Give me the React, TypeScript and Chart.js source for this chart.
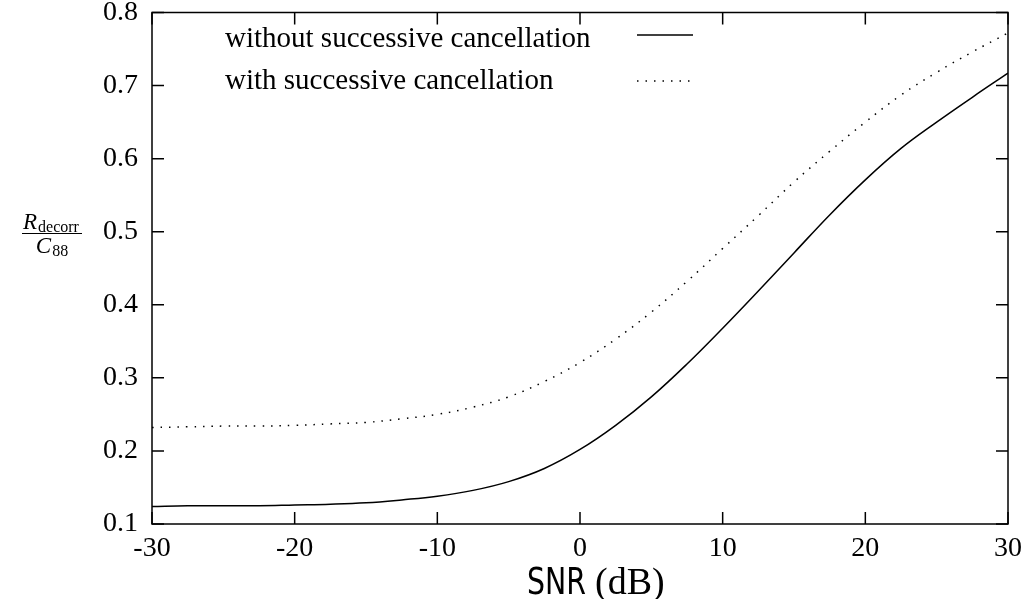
import React, { useEffect, useRef } from "react";
import { Chart, registerables } from "chart.js";

Chart.register(...registerables);

const snr = [-30, -27.5, -25, -22.5, -20, -17.5, -15, -12.5, -10, -7.5, -5, -2.5, 0, 2.5, 5, 7.5, 10, 12.5, 15, 17.5, 20, 22.5, 25, 27.5, 30];
const withoutSC = [0.124, 0.125, 0.125, 0.125, 0.126, 0.127, 0.129, 0.133, 0.138, 0.146, 0.158, 0.176, 0.202, 0.235, 0.274, 0.319, 0.368, 0.419, 0.471, 0.523, 0.571, 0.614, 0.65, 0.684, 0.717];
const withSC = [0.232, 0.233, 0.234, 0.234, 0.235, 0.237, 0.239, 0.244, 0.25, 0.26, 0.274, 0.295, 0.321, 0.353, 0.39, 0.432, 0.477, 0.522, 0.568, 0.61, 0.65, 0.687, 0.718, 0.746, 0.772];
const seriesLabels = ["without successive cancellation", "with successive cancellation"];
const xTicks = [-30, -20, -10, 0, 10, 20, 30];
const yTicks = [0.1, 0.2, 0.3, 0.4, 0.5, 0.6, 0.7, 0.8];

const SERIF = '"Liberation Serif", "Times New Roman", serif';
const SANS = '"DejaVu Sans", sans-serif';

const framePlugin = {
  id: "frame",
  afterDraw(chart: any) {
    const { ctx, chartArea } = chart;
    const { left, right, top, bottom } = chartArea;
    const xs = chart.scales.x;
    const ys = chart.scales.y;
    ctx.save();
    ctx.strokeStyle = "#000";
    ctx.lineWidth = 1.5;
    ctx.setLineDash([]);
    ctx.strokeRect(left, top, right - left, bottom - top);
    const tl = 12;
    ctx.beginPath();
    xTicks.forEach((v) => {
      const px = xs.getPixelForValue(v);
      ctx.moveTo(px, bottom);
      ctx.lineTo(px, bottom - tl);
      ctx.moveTo(px, top);
      ctx.lineTo(px, top + tl);
    });
    yTicks.forEach((v) => {
      const py = ys.getPixelForValue(v);
      ctx.moveTo(left, py);
      ctx.lineTo(left + tl, py);
      ctx.moveTo(right, py);
      ctx.lineTo(right - tl, py);
    });
    ctx.stroke();

    // legend
    ctx.fillStyle = "#000";
    ctx.textBaseline = "alphabetic";
    ctx.textAlign = "left";
    ctx.font = `29px ${SERIF}`;
    const rows = [
      { text: top + 34, line: top + 22.5 },
      { text: top + 76, line: top + 68.5 },
    ];
    chart.data.datasets.forEach((ds: any, i: number) => {
      const r = rows[i];
      ctx.fillText(ds.label, left + 73, r.text);
      ctx.beginPath();
      ctx.lineWidth = ds.borderWidth;
      ctx.strokeStyle = ds.borderColor;
      ctx.setLineDash(ds.borderDash || []);
      ctx.moveTo(left + 485, r.line);
      ctx.lineTo(left + 541, r.line);
      ctx.stroke();
    });
    ctx.setLineDash([]);

    // y-axis title: R_decorr / C_88
    ctx.fillStyle = "#000";
    ctx.strokeStyle = "#000";
    ctx.font = `italic 23px ${SERIF}`;
    ctx.fillText("R", 23, 229);
    const rw = ctx.measureText("R").width;
    ctx.font = `16px ${SERIF}`;
    ctx.fillText("decorr", 23 + rw + 1, 232);
    ctx.lineWidth = 1;
    ctx.beginPath();
    ctx.moveTo(22, 233.5);
    ctx.lineTo(82, 233.5);
    ctx.stroke();
    ctx.font = `italic 23px ${SERIF}`;
    const cw = ctx.measureText("C").width;
    ctx.font = `16px ${SERIF}`;
    const ew = ctx.measureText("88").width;
    const cx = 52 - (cw + ew + 1) / 2;
    ctx.font = `italic 23px ${SERIF}`;
    ctx.fillText("C", cx, 253);
    ctx.font = `16px ${SERIF}`;
    ctx.fillText("88", cx + cw + 1, 256);

    // x-axis title: SNR (dB)
    ctx.font = `38px ${SANS}`;
    const sw = ctx.measureText("SNR").width;
    ctx.save();
    ctx.translate(527, 594);
    ctx.scale(59 / sw, 1);
    ctx.fillText("SNR", 0, 0);
    ctx.restore();
    ctx.font = `38px ${SERIF}`;
    ctx.fillText("(dB)", 595, 594);
    ctx.restore();
  },
};

export default function App() {
  const ref = useRef<HTMLCanvasElement | null>(null);
  useEffect(() => {
    if (!ref.current) return;
    const chart = new Chart(ref.current, {
      type: "line",
      data: {
        datasets: [
          {
            label: seriesLabels[0],
            data: snr.map((x, i) => ({ x, y: withoutSC[i] })),
            borderColor: "#000",
            borderWidth: 1.5,
            pointRadius: 0,
            tension: 0.4,
            fill: false,
          },
          {
            label: seriesLabels[1],
            data: snr.map((x, i) => ({ x, y: withSC[i] })),
            borderColor: "#000",
            borderWidth: 1.5,
            borderDash: [1.5, 7],
            pointRadius: 0,
            tension: 0.4,
            fill: false,
          },
        ],
      },
      options: {
        animation: false,
        responsive: true,
        maintainAspectRatio: false,
        layout: { padding: { top: 12.5, right: 14, left: 0, bottom: 0 } },
        plugins: { legend: { display: false }, tooltip: { enabled: false }, title: { display: false } },
        scales: {
          x: {
            type: "linear",
            min: -30,
            max: 30,
            afterBuildTicks: (s: any) => { s.ticks = xTicks.map((v) => ({ value: v })); },
            afterFit: (s: any) => { s.height = 75; s.paddingLeft = 0; s.paddingRight = 0; },
            grid: { display: false, drawTicks: false },
            border: { display: false },
            ticks: {
              color: "#000",
              font: { family: SERIF, size: 28 },
              padding: 8,
              maxRotation: 0,
              autoSkip: false,
              callback: (v: any) => String(v),
            },
          },
          y: {
            type: "linear",
            min: 0.1,
            max: 0.8,
            afterBuildTicks: (s: any) => { s.ticks = yTicks.map((v) => ({ value: v })); },
            afterFit: (s: any) => { s.width = 152; s.paddingTop = 0; s.paddingBottom = 0; },
            grid: { display: false, drawTicks: false },
            border: { display: false },
            ticks: {
              color: "#000",
              font: { family: SERIF, size: 28 },
              padding: 14,
              autoSkip: false,
              callback: (v: any) => Number(v).toFixed(1),
            },
          },
        },
      },
      plugins: [framePlugin],
    });
    return () => chart.destroy();
  }, []);
  return (
    <div style={{ position: "fixed", left: 0, top: 0, width: 1022, height: 599, background: "#fff" }}>
      <canvas ref={ref} />
    </div>
  );
}
